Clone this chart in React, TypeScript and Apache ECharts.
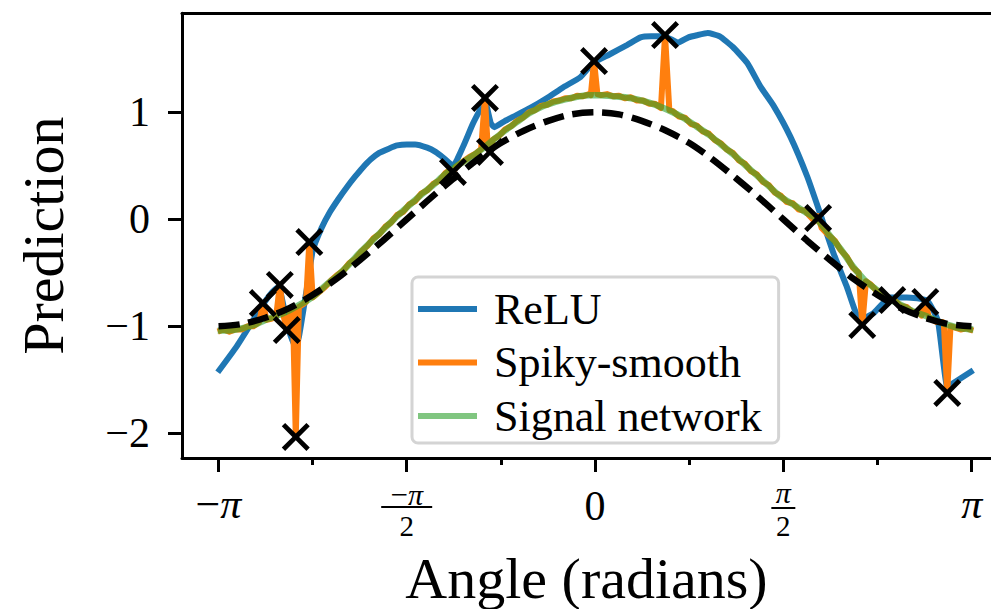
import React, { useEffect, useRef } from 'react';
import * as echarts from 'echarts';

const PI = Math.PI;
const FONT = '"Liberation Serif", "Times New Roman", serif';

// tick positions
const xMajorTicks = [-PI, -PI / 2, 0, PI / 2, PI];
const xMinorTicks = [-3 * PI / 4, -PI / 4, PI / 4, 3 * PI / 4];
const yTicks = [-2, -1, 0, 1];

const seriesNames = ['ReLU', 'Spiky-smooth', 'Signal network'];

// ReLU network prediction [angle, value]
const reluData = [
  [-3.147, -1.43], [-2.99, -1.19], [-2.86, -0.96], [-2.771, -0.80], [-2.70, -0.69], [-2.64, -0.63],
  [-2.60, -0.80], [-2.55, -1.05], [-2.50, -1.19], [-2.47, -1.10], [-2.40, -0.62], [-2.354, -0.29],
  [-2.28, -0.08], [-2.21, 0.07], [-2.14, 0.19], [-2.07, 0.30], [-2.00, 0.40], [-1.94, 0.48],
  [-1.87, 0.56], [-1.80, 0.62], [-1.72, 0.66], [-1.65, 0.69], [-1.57, 0.70], [-1.50, 0.70],
  [-1.40, 0.67], [-1.33, 0.63], [-1.27, 0.58], [-1.185, 0.50], [-1.10, 0.68], [-1.02, 0.89],
  [-0.96, 1.02], [-0.918, 1.10], [-0.87, 0.90], [-0.84, 0.86], [-0.75, 0.92], [-0.68, 0.96],
  [-0.54, 1.04], [-0.39, 1.14], [-0.27, 1.23], [-0.12, 1.33], [-0.017, 1.46], [0.12, 1.54],
  [0.27, 1.63], [0.38, 1.70], [0.47, 1.71], [0.57, 1.71], [0.64, 1.68], [0.69, 1.65],
  [0.78, 1.70], [0.85, 1.72], [0.94, 1.74], [1.04, 1.71], [1.15, 1.61], [1.27, 1.46],
  [1.38, 1.24], [1.49, 1.06], [1.63, 0.77], [1.77, 0.40], [1.87, 0.08], [1.99, -0.32],
  [2.10, -0.63], [2.21, -0.94], [2.32, -0.88], [2.46, -0.73], [2.60, -0.73], [2.77, -0.76],
  [2.86, -0.95], [2.94, -1.57], [2.99, -1.53], [3.155, -1.41],
];

// Spiky-smooth network prediction
const spikyData = [
  [-3.147, -1.05], [-3.10, -1.03], [-3.05, -1.05], [-3.00, -1.03], [-2.95, -1.03], [-2.90, -1.00],
  [-2.85, -1.00], [-2.80, -0.96], [-2.771, -0.783], [-2.74, -0.94], [-2.70, -0.93], [-2.66, -0.91],
  [-2.629, -0.614], [-2.60, -0.89], [-2.571, -1.035], [-2.54, -0.86], [-2.52, -0.85], [-2.496, -2.034],
  [-2.47, -0.82], [-2.43, -0.79], [-2.41, -0.77], [-2.383, -0.213], [-2.355, -0.73], [-2.30, -0.68],
  [-2.25, -0.63], [-2.20, -0.57], [-2.15, -0.52], [-2.10, -0.48], [-2.05, -0.41], [-2.00, -0.37],
  [-1.95, -0.30], [-1.90, -0.25], [-1.85, -0.18], [-1.80, -0.14], [-1.75, -0.07], [-1.70, -0.03],
  [-1.65, 0.04], [-1.60, 0.07], [-1.55, 0.14], [-1.50, 0.17], [-1.45, 0.24], [-1.40, 0.27],
  [-1.35, 0.33], [-1.30, 0.36], [-1.25, 0.43], [-1.21, 0.46], [-1.185, 0.44], [-1.16, 0.49],
  [-1.10, 0.54], [-1.05, 0.58], [-1.00, 0.61], [-0.95, 0.655], [-0.918, 1.134], [-0.895, 0.68],
  [-0.876, 0.629], [-0.85, 0.745], [-0.80, 0.78], [-0.75, 0.84], [-0.70, 0.87], [-0.65, 0.92],
  [-0.60, 0.95], [-0.55, 1.00], [-0.50, 1.02], [-0.45, 1.06], [-0.40, 1.07], [-0.35, 1.10],
  [-0.30, 1.11], [-0.25, 1.13], [-0.20, 1.13], [-0.15, 1.155], [-0.10, 1.15], [-0.05, 1.17],
  [-0.035, 1.16], [-0.008, 1.479], [0.02, 1.17], [0.05, 1.16], [0.10, 1.17], [0.15, 1.15],
  [0.20, 1.155], [0.25, 1.13], [0.30, 1.14], [0.35, 1.11], [0.40, 1.11], [0.45, 1.08],
  [0.50, 1.08], [0.55, 1.04], [0.584, 1.722], [0.62, 1.02], [0.65, 1.01], [0.70, 0.96],
  [0.75, 0.95], [0.80, 0.89], [0.85, 0.875], [0.90, 0.82], [0.95, 0.80], [1.00, 0.74],
  [1.05, 0.71], [1.10, 0.65], [1.15, 0.62], [1.20, 0.55], [1.25, 0.52], [1.30, 0.45],
  [1.35, 0.42], [1.40, 0.35], [1.45, 0.32], [1.50, 0.25], [1.55, 0.22], [1.60, 0.16],
  [1.65, 0.15], [1.70, 0.09], [1.75, 0.08], [1.80, 0.02], [1.83, -0.02], [1.861, 0.03],
  [1.89, -0.08], [1.95, -0.15], [2.00, -0.20], [2.05, -0.29], [2.10, -0.35], [2.15, -0.45],
  [2.20, -0.50], [2.229, -0.988], [2.26, -0.58], [2.30, -0.61], [2.35, -0.67], [2.40, -0.69],
  [2.45, -0.75], [2.479, -0.755], [2.50, -0.76], [2.55, -0.81], [2.60, -0.82], [2.65, -0.87],
  [2.70, -0.87], [2.725, -0.90], [2.755, -0.773], [2.785, -0.92], [2.85, -0.96], [2.90, -0.96],
  [2.91, -0.98], [2.938, -1.623], [2.965, -1.00], [3.00, -1.01], [3.05, -1.03], [3.10, -1.02],
  [3.155, -1.04],
];

// Signal network prediction
const signalData = [
  [-3.147, -1.04], [-3.05, -1.04], [-2.95, -1.02], [-2.85, -0.99], [-2.75, -0.94], [-2.65, -0.90],
  [-2.55, -0.85], [-2.45, -0.79], [-2.35, -0.72], [-2.25, -0.62], [-2.15, -0.53], [-2.05, -0.42],
  [-1.95, -0.30], [-1.85, -0.19], [-1.75, -0.08], [-1.65, 0.03], [-1.55, 0.13], [-1.45, 0.23],
  [-1.35, 0.32], [-1.25, 0.42], [-1.15, 0.50], [-1.05, 0.57], [-0.95, 0.65], [-0.85, 0.74],
  [-0.75, 0.83], [-0.65, 0.91], [-0.55, 0.99], [-0.45, 1.05], [-0.35, 1.09], [-0.25, 1.12],
  [-0.15, 1.145], [-0.05, 1.16], [0.05, 1.16], [0.15, 1.15], [0.25, 1.14], [0.35, 1.12],
  [0.45, 1.09], [0.55, 1.05], [0.65, 1.00], [0.75, 0.94], [0.85, 0.865], [0.95, 0.79],
  [1.05, 0.70], [1.15, 0.61], [1.25, 0.51], [1.35, 0.41], [1.45, 0.31], [1.55, 0.21],
  [1.65, 0.14], [1.75, 0.07], [1.85, 0.0], [1.95, -0.14], [2.05, -0.28], [2.15, -0.44],
  [2.25, -0.57], [2.35, -0.66], [2.45, -0.74], [2.55, -0.80], [2.65, -0.86], [2.75, -0.90],
  [2.85, -0.95], [2.95, -0.99], [3.05, -1.02], [3.155, -1.03],
];

// target function (dashed)
const targetX = [
  -3.14, -2.95, -2.75, -2.55, -2.36, -2.16, -1.96, -1.77, -1.57, -1.37, -1.18, -0.98, -0.79,
  -0.59, -0.39, -0.20, 0.0, 0.20, 0.39, 0.59, 0.79, 0.98, 1.18, 1.37, 1.57, 1.77, 1.96, 2.16,
  2.36, 2.55, 2.75, 2.95, 3.14,
];
const targetY = [
  -1.0, -0.98, -0.92, -0.83, -0.71, -0.56, -0.38, -0.2, 0.0, 0.2, 0.38, 0.56, 0.71, 0.83, 0.92,
  0.98, 1.0, 0.98, 0.92, 0.83, 0.71, 0.56, 0.38, 0.2, 0.0, -0.2, -0.38, -0.56, -0.71, -0.83,
  -0.92, -0.98, -1.0,
];

// training points (crosses)
const trainPoints = [
  [-2.771, -0.783], [-2.629, -0.614], [-2.571, -1.035], [-2.496, -2.034], [-2.383, -0.213],
  [-1.185, 0.442], [-0.918, 1.134], [-0.876, 0.629], [-0.008, 1.479], [0.584, 1.722],
  [1.861, 0.012], [2.229, -0.988], [2.479, -0.755], [2.755, -0.773], [2.938, -1.623],
];

const CROSS = 'path://M0,12L12,0L50,38L88,0L100,12L62,50L100,88L88,100L50,62L12,100L0,88L38,50Z';

export default function App() {
  const ref = useRef<HTMLDivElement>(null);
  useEffect(() => {
    document.body.style.margin = '0';
    if (!ref.current) return;
    const chart = echarts.init(ref.current, null, { renderer: 'svg' });
    const xMin = -3.445;
    const xMax = 3.303;
    const yMin = -2.231;
    const yMax = 1.925;
    const axisLineStyle = { color: '#000', width: 3 };
    const fracBase = { fontFamily: FONT, color: '#000' };
    chart.setOption({
      animation: false,
      textStyle: { fontFamily: FONT, color: '#000' },
      grid: { left: 182, right: 0, top: 13.3, bottom: 151, containLabel: false, outerBoundsMode: 'none' },
      legend: {
        data: seriesNames,
        orient: 'vertical',
        left: 412,
        top: 277,
        align: 'left',
        icon: 'rect',
        itemWidth: 59,
        itemHeight: 6,
        itemGap: 1.5,
        padding: [6, 17, 1, 6],
        borderColor: '#d4d4d4',
        borderWidth: 3,
        borderRadius: 6,
        backgroundColor: 'rgba(255,255,255,0.8)',
        selectedMode: false,
        textStyle: { fontFamily: FONT, fontSize: 44, lineHeight: 40, color: '#000', padding: [0, 0, 12, 12] },
      },
      xAxis: [
        {
          type: 'value',
          min: xMin,
          max: xMax,
          position: 'bottom',
          name: 'Angle (radians)',
          nameLocation: 'middle',
          nameGap: 100,
          nameMoveOverlap: false,
          nameTextStyle: { fontFamily: FONT, fontSize: 58, lineHeight: 40, color: '#000' },
          axisLine: { show: true, onZero: false, lineStyle: axisLineStyle },
          axisTick: { show: true, customValues: xMajorTicks, length: 14, lineStyle: { color: '#000', width: 3 } },
          splitLine: { show: false },
          axisLabel: {
            show: true,
            customValues: xMajorTicks,
            margin: 19,
            color: '#000',
            fontFamily: FONT,
            formatter: (v: number) => {
              const k = Math.round(v / (PI / 2));
              if (k === -2) return '{m|\u2212}{pi|\u03c0}';
              if (k === -1) return '{nm|\u2212}{npi|\u03c0}\n{bar1| }\n{dd|2}';
              if (k === 0) return '{z|0}';
              if (k === 1) return '{npi2|\u03c0}\n{bar2| }\n{dp|2}';
              return '{pi|\u03c0}';
            },
            rich: {
              m: { ...fracBase, fontSize: 44, lineHeight: 54 },
              pi: { ...fracBase, fontSize: 42, lineHeight: 54, fontStyle: 'italic' },
              z: { ...fracBase, fontSize: 42, lineHeight: 58 },
              nm: { ...fracBase, fontSize: 31, lineHeight: 29, padding: [6, 0, 0, 0] },
              npi: { ...fracBase, fontSize: 30, lineHeight: 29, padding: [6, 0, 0, 0], fontStyle: 'italic' },
              bar1: { width: 51, height: 2, lineHeight: 2, fontSize: 2, backgroundColor: '#000' },
              dd: { ...fracBase, fontSize: 29, lineHeight: 35 },
              npi2: { ...fracBase, fontSize: 30, lineHeight: 30, fontStyle: 'italic' },
              bar2: { width: 24, height: 2, lineHeight: 2, fontSize: 2, backgroundColor: '#000' },
              dp: { ...fracBase, fontSize: 29, lineHeight: 33 },
            },
          },
        },
        {
          type: 'value',
          min: xMin,
          max: xMax,
          position: 'bottom',
          axisLine: { show: false, onZero: false },
          axisTick: { show: true, customValues: xMinorTicks, length: 7, lineStyle: { color: '#000', width: 3 } },
          axisLabel: { show: false },
          splitLine: { show: false },
        },
        {
          type: 'value',
          min: xMin,
          max: xMax,
          position: 'top',
          axisLine: { show: true, onZero: false, lineStyle: axisLineStyle },
          axisTick: { show: false },
          axisLabel: { show: false },
          splitLine: { show: false },
        },
      ],
      yAxis: {
        type: 'value',
        min: yMin,
        max: yMax,
        position: 'left',
        name: 'Prediction',
        nameLocation: 'middle',
        nameRotate: 90,
        nameGap: 109,
        nameMoveOverlap: false,
        nameTextStyle: { fontFamily: FONT, fontSize: 58, lineHeight: 59, color: '#000' },
        axisLine: { show: true, onZero: false, lineStyle: axisLineStyle },
        axisTick: { show: true, customValues: yTicks, length: 14, lineStyle: { color: '#000', width: 3 } },
        splitLine: { show: false },
        axisLabel: {
          customValues: yTicks,
          margin: 32,
          fontSize: 42,
          fontFamily: FONT,
          color: '#000',
          formatter: (v: number) => (v < 0 ? '\u2212' + Math.abs(v) : String(v)),
        },
      },
      series: [
        {
          name: 'ReLU',
          type: 'line',
          xAxisIndex: 0,
          data: reluData,
          showSymbol: false,
          smooth: 0.15,
          color: '#1f77b4',
          lineStyle: { width: 6, color: '#1f77b4' },
          z: 2,
        },
        {
          name: 'Spiky-smooth',
          type: 'line',
          xAxisIndex: 0,
          data: spikyData,
          showSymbol: false,
          color: '#ff7f0e',
          lineStyle: { width: 6, color: '#ff7f0e', join: 'round' },
          z: 3,
        },
        {
          name: 'Signal network',
          type: 'line',
          xAxisIndex: 0,
          data: signalData,
          showSymbol: false,
          smooth: 0.3,
          color: 'rgba(44,160,44,0.6)',
          lineStyle: { width: 6.5, color: 'rgba(44,160,44,0.6)' },
          z: 4,
        },
        {
          name: 'target',
          type: 'line',
          xAxisIndex: 0,
          data: targetX.map((x, i) => [x, targetY[i]]),
          showSymbol: false,
          smooth: 0.3,
          color: '#000',
          lineStyle: { width: 6.5, color: '#000', type: [21, 9] },
          z: 5,
        },
        {
          name: 'train',
          type: 'scatter',
          xAxisIndex: 0,
          data: trainPoints,
          symbol: CROSS,
          symbolSize: 28,
          itemStyle: { color: '#000', opacity: 1 },
          z: 6,
        },
      ],
    });
    return () => chart.dispose();
  }, []);
  return <div ref={ref} style={{ width: 991, height: 609 }} />;
}
